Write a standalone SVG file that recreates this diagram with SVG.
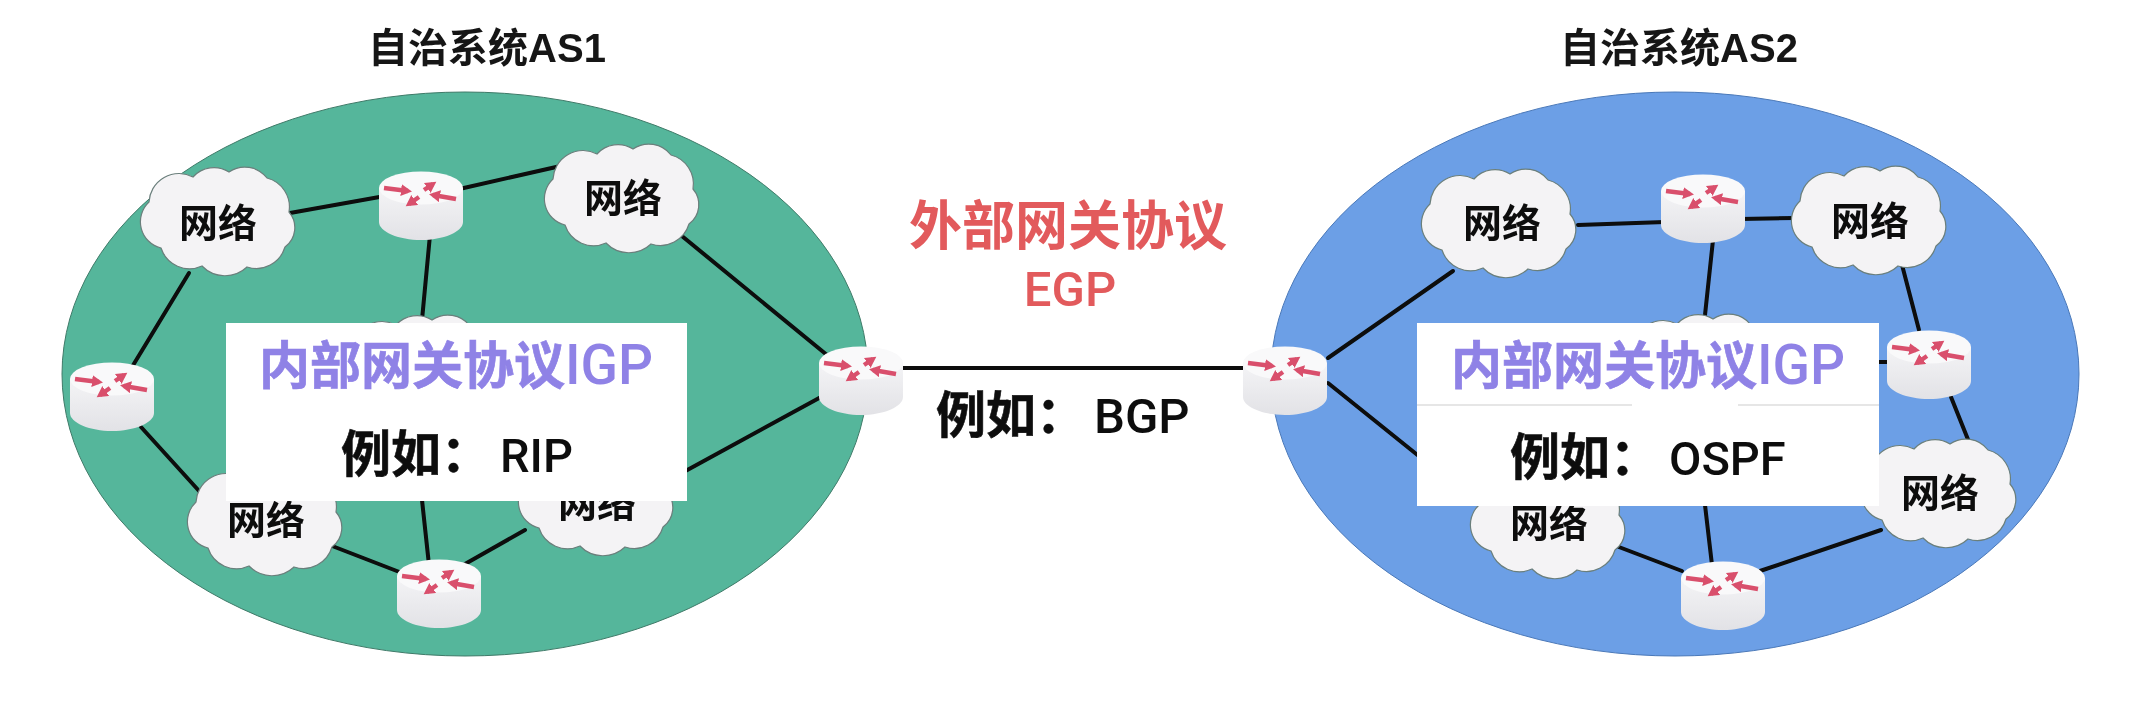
<svg xmlns="http://www.w3.org/2000/svg" xmlns:xlink="http://www.w3.org/1999/xlink" width="2133" height="716" viewBox="0 0 2133 716">
<style>
text{font-family:"Liberation Sans","Noto Sans CJK SC",sans-serif}
.conn line{stroke:#0a0d0c;stroke-width:4;stroke-linecap:round}
.title{font-size:40px;font-weight:700;fill:#151515;text-anchor:middle}
.net{font-size:39px;font-weight:700;fill:#111;text-anchor:middle}
.igp{font-size:51px;font-weight:700;fill:#8f82e6;stroke:#8f82e6;stroke-width:.7}
.igp tspan{font-family:Roboto,sans-serif;font-size:55px;font-weight:500;stroke:none}
.eg{font-size:50px;font-weight:700;fill:#111;stroke:#111;stroke-width:.6}
.eg tspan{font-family:Roboto,sans-serif;font-size:47px;font-weight:500;stroke:none}
.red{fill:#e25a5c;font-weight:700}
.box{fill:#fff}
.as{stroke:#3f7a68;stroke-width:1}
.arr{stroke:#d9506c;stroke-width:4.4;fill:none;marker-end:url(#ah)}
</style>
<defs>
<linearGradient id="rb" x1="0" y1="0" x2="0" y2="1"><stop offset="0" stop-color="#f4f4f6"/><stop offset="1" stop-color="#e2e2e6"/></linearGradient>
<marker id="ah" markerUnits="userSpaceOnUse" markerWidth="14" markerHeight="14" refX="7" refY="6" orient="auto"><path d="M0,0L11,6L0,12Z" fill="#d9506c"/></marker>
<filter id="soft" filterUnits="userSpaceOnUse" x="0" y="0" width="2133" height="716"><feGaussianBlur stdDeviation="0.6"/></filter>
<g id="cloud"><path d="M-70,-18A30,30 0 0 1 -26,-43A28,28 0 0 1 10,-48A28,28 0 0 1 48,-42A30,30 0 0 1 70,-8A24,24 0 0 1 66,27A30,30 0 0 1 28,47A32,32 0 0 1 -17,46A30,30 0 0 1 -58,28A27,27 0 0 1 -70,-18Z" fill="#f4f3f5" stroke="#6b7f7c" stroke-width="1.2"/></g>
<g id="router">
<path d="M-42,-18V16C-42,26 -22,34 0,34C22,34 42,26 42,16V-18Z" fill="url(#rb)"/>
<ellipse cx="0" cy="-18" rx="42" ry="16.500" fill="#f9f9fa"/>
<path class="arr" d="M-37,-18L-13,-15"/>
<path class="arr" d="M3,-16L12,-22"/>
<path class="arr" d="M-2,-9L-12,-2"/>
<path class="arr" d="M35,-7L12,-11"/>
</g>
</defs>
<rect width="2133" height="716" fill="#fff"/>
<g filter="url(#soft)">
<text class="title" x="487" y="62">自治系统AS1</text>
<text class="title" x="1679" y="62">自治系统AS2</text>
<ellipse class="as" id="as1" cx="465" cy="374" rx="403" ry="282" fill="#55b69b"/>
<ellipse class="as" id="as2" cx="1675" cy="374" rx="404" ry="282" fill="#6c9fe6" style="stroke:#4a78b8"/>
<g id="connectors" class="conn">
<line x1="290" y1="213" x2="385" y2="196"/><line x1="455" y1="190" x2="565" y2="165"/>
<line x1="430" y1="235" x2="422" y2="320"/><line x1="677" y1="232" x2="827" y2="355"/>
<line x1="189" y1="273" x2="132" y2="367"/><line x1="141" y1="427" x2="210" y2="503"/>
<line x1="327" y1="544" x2="402" y2="573"/><line x1="465" y1="564" x2="525" y2="530"/>
<line x1="422" y1="500" x2="429" y2="565"/><line x1="821" y1="397" x2="680" y2="474"/>
<line x1="860" y1="368" x2="1290" y2="368"/>
<line x1="1578" y1="225" x2="1665" y2="222"/><line x1="1740" y1="219" x2="1795" y2="218"/>
<line x1="1713" y1="240" x2="1705" y2="315"/><line x1="1901" y1="261" x2="1919" y2="330"/>
<line x1="1951" y1="397" x2="1969" y2="442"/><line x1="1881" y1="530" x2="1760" y2="571"/>
<line x1="1682" y1="571" x2="1611" y2="544"/><line x1="1705" y1="505" x2="1712" y2="565"/>
<line x1="1328" y1="358" x2="1453" y2="271"/><line x1="1328" y1="383" x2="1420" y2="457"/>
<line x1="1875" y1="362" x2="1890" y2="362"/>
</g>
<g id="as1-net1"><use href="#cloud" x="219" y="220"/><text class="net" x="218" y="237">网络</text></g>
<g id="as1-net2"><use href="#cloud" x="623" y="197"/><text class="net" x="623" y="212">网络</text></g>
<g id="as1-net3"><use href="#cloud" x="266" y="520"/><text class="net" x="266" y="534">网络</text></g>
<g id="as1-net4"><use href="#cloud" x="597" y="500"/><text class="net" x="597" y="517">网络</text></g>
<g id="as1-net5"><use href="#cloud" x="422" y="368"/></g>
<g id="as2-net1"><use href="#cloud" x="1500" y="222"/><text class="net" x="1502" y="237">网络</text></g>
<g id="as2-net2"><use href="#cloud" x="1870" y="219"/><text class="net" x="1870" y="235">网络</text></g>
<g id="as2-net3"><use href="#cloud" x="1940" y="492"/><text class="net" x="1940" y="507">网络</text></g>
<g id="as2-net4"><use href="#cloud" x="1549" y="523"/><text class="net" x="1549" y="537">网络</text></g>
<g id="as2-net5"><use href="#cloud" x="1703" y="367"/></g>
<g id="as1-r1"><use href="#router" x="421" y="206"/></g>
<g id="as1-r2"><use href="#router" x="112" y="397"/></g>
<g id="as1-r3"><use href="#router" x="861" y="381"/></g>
<g id="as1-r4"><use href="#router" x="439" y="594"/></g>
<g id="as2-r1"><use href="#router" x="1703" y="209"/></g>
<g id="as2-r2"><use href="#router" x="1285" y="381"/></g>
<g id="as2-r3"><use href="#router" x="1929" y="365"/></g>
<g id="as2-r4"><use href="#router" x="1723" y="596"/></g>
<g id="igp1"><rect class="box" x="226" y="323" width="461" height="178"/>
<text class="igp" x="259" y="384">内部网关协议<tspan>IGP</tspan></text>
<text class="eg" x="341" y="472">例如： <tspan x="500">RIP</tspan></text></g>
<g id="igp2"><rect class="box" x="1417" y="323" width="462" height="183"/>
<path d="M1417,405H1632M1738,405H1879" stroke="#e6e6e6" stroke-width="2" fill="none"/>
<text class="igp" x="1451" y="384">内部网关协议<tspan>IGP</tspan></text>
<text class="eg" x="1510" y="475">例如： <tspan x="1669">OSPF</tspan></text></g>
<g id="egp">
<text class="red" x="909" y="245" font-size="53">外部网关协议</text>
<text x="1070" y="306" font-size="49" text-anchor="middle" style="font-family:Roboto,sans-serif;font-weight:500;fill:#e25a5c">EGP</text>
<text class="eg" x="936" y="433">例如： <tspan x="1094" style="font-size:49px">BGP</tspan></text>
</g>
</g>
</svg>
